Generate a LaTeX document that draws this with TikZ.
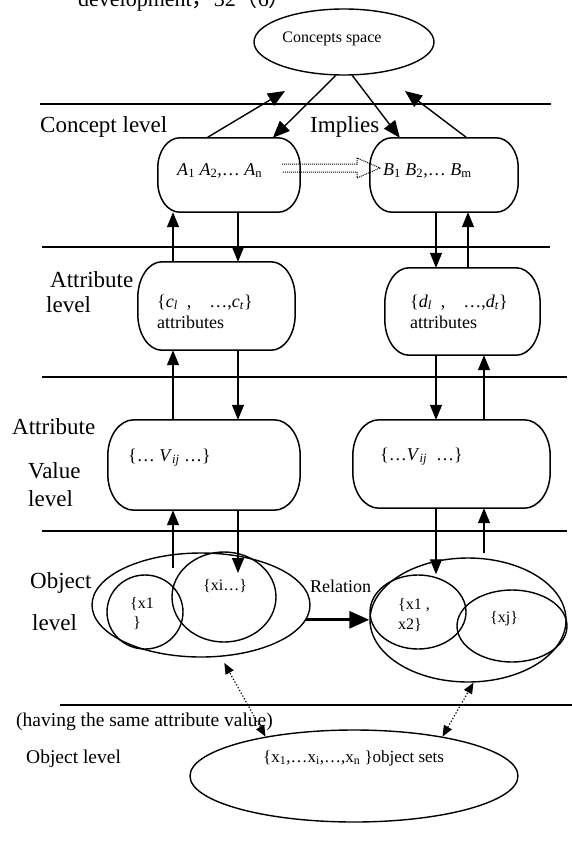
\documentclass[tikz,border=0pt]{standalone}
\usepackage{fontspec}
\setmainfont{Liberation Serif}
\newfontfamily\cjk{Noto Sans CJK SC}
\usetikzlibrary{arrows.meta,shapes.geometric,calc}
\newcommand{\capsulebox}[3]{%
  \draw[boxline] ([xshift=#2pt]#1.north west) -- ([xshift=-#2pt]#1.north east)
    arc[start angle=90,end angle=0,x radius=#2pt,y radius=#3pt]
    -- ([yshift=#3pt]#1.south east)
    arc[start angle=0,end angle=-90,x radius=#2pt,y radius=#3pt]
    -- ([xshift=#2pt]#1.south west)
    arc[start angle=270,end angle=180,x radius=#2pt,y radius=#3pt]
    -- ([yshift=-#3pt]#1.north west)
    arc[start angle=180,end angle=90,x radius=#2pt,y radius=#3pt] -- cycle;}
\begin{document}
\begin{tikzpicture}[x=1pt,y=-1pt,
  lvl/.style={line width=1.4pt},
  boxline/.style={line width=1.5pt},
  area/.style={inner sep=0pt, draw=none},
  ell/.style={ellipse, draw, line width=1.4pt, inner sep=0pt},
  lab/.style={font=\fontsize{23}{25}\selectfont, anchor=base west, inner sep=0pt},
  boxtxt/.style={font=\fontsize{18}{20}\selectfont, anchor=base west, inner sep=0pt},
  small/.style={font=\fontsize{16}{18}\selectfont, anchor=base west, inner sep=0pt},
  mid/.style={font=\fontsize{19.5}{21}\selectfont, anchor=base west, inner sep=0pt},
  varr/.style={line width=1.3pt, -{Triangle[length=15pt,width=12pt]}},
  carr/.style={line width=1.4pt, -{Triangle[length=17pt,width=14pt]}},
  relarr/.style={line width=3pt, -{Triangle[length=20pt,width=17pt]}},
  darr/.style={line width=1.2pt, dotted, {Triangle[length=11pt,width=9pt]}-{Triangle[length=11pt,width=9pt]}},
  implies/.style={line width=1pt, dash pattern=on 1pt off 1pt}
]
\useasboundingbox (0,0) rectangle (572,854);

% header fragment (cut off at the top)
\node[anchor=base west, inner sep=0pt, font=\fontsize{22}{24}\selectfont] (hdr) at (78,6) {development{\cjk ，}32{\cjk （}6{\cjk ）}};

% level separators
\draw[lvl] (40,104) -- (551,104);
\draw[lvl] (42,247) -- (550,247);
\draw[lvl] (42,377) -- (567,377);
\draw[lvl] (42,531) -- (567,531);
\draw[lvl] (60,705) -- (572,705);

% level labels
\node[lab] (lconcept) at (40,132) {Concept level};
\node[lab] (limplies) at (310,132) {Implies};
\node[lab] (lattr1) at (50,287) {Attribute};
\node[lab] (lattr2) at (46,312) {level};
\node[lab] (lval1) at (12,434) {Attribute};
\node[lab] (lval2) at (28,478) {Value};
\node[lab] (lval3) at (28,506) {level};
\node[lab] (lobj1) at (30,588) {Object};
\node[lab] (lobj2) at (32,630) {level};

% concepts space
\node[ell, minimum width=180pt, minimum height=66pt] (cs) at (344,42) {};
\node[font=\fontsize{16}{18}\selectfont, inner sep=0pt] (csT) at (332,39) {Concepts space};

% boxes
\node[area, minimum width=142pt, minimum height=74pt] (A) at (229,175) {};
\node[area, minimum width=148pt, minimum height=74pt] (B) at (444,175) {};
\node[area, minimum width=157pt, minimum height=88pt] (c) at (216.5,306) {};
\node[area, minimum width=155pt, minimum height=87pt] (d) at (462.5,311.5) {};
\node[area, minimum width=192pt, minimum height=90pt] (Vl) at (204,465) {};
\node[area, minimum width=197pt, minimum height=88pt] (Vr) at (451.5,464) {};
\capsulebox{A}{22}{30}
\capsulebox{B}{22}{30}
\capsulebox{c}{24}{36}
\capsulebox{d}{24}{36}
\capsulebox{Vl}{26}{36}
\capsulebox{Vr}{26}{36}

\node[boxtxt] (At) at (177,175) {\textit{A}\textsubscript{1} \textit{A}\textsubscript{2},… \textit{A}\textsubscript{n}};
\node[boxtxt] (Bt) at (383,175) {\textit{B}\textsubscript{1} \textit{B}\textsubscript{2},… \textit{B}\textsubscript{m}};
\node[boxtxt] (ct1) at (157,307) {\{\textit{c}\textsubscript{\textit{l}}\ \ ,\ \ \ \ …,\textit{c}\textsubscript{\textit{t}}\}};
\node[boxtxt] (ct2) at (157,328) {attributes};
\node[boxtxt] (dt1) at (410,307) {\{\textit{d}\textsubscript{\textit{l}}\ \ ,\ \ \ \ …,\textit{d}\textsubscript{\textit{t}}\}};
\node[boxtxt] (dt2) at (410,328) {attributes};
\node[boxtxt] (vlt) at (128,461) {\{… \textit{V}\textsubscript{\textit{ij}} …\}};
\node[boxtxt] (vrt) at (380,460) {\{…\textit{V}\textsubscript{\textit{ij}}\ \ …\}};

% object level sets
\node[ell, minimum width=218pt, minimum height=104pt] (bigL) at (201,605) {};
\node[ell, minimum width=76pt, minimum height=74pt] (x1) at (145,612) {};
\node[ell, minimum width=104pt, minimum height=90pt] (xi) at (224,597) {};
\node[ell, minimum width=196pt, minimum height=124pt] (bigR) at (468,620) {};
\node[ell, minimum width=96pt, minimum height=74pt] (x12) at (418,612) {};
\node[ell, minimum width=110pt, minimum height=72pt] (xj) at (512,626) {};
\node[small] (x1t1) at (130,608) {\{x1};
\node[small] (x1t2) at (133,627) {\}};
\node[small] (xit) at (203,590) {\{xi…\}};
\node[small] (x12t1) at (398,609) {\{x1 ,};
\node[small] (x12t2) at (398,629) {x2\}};
\node[small] (xjt) at (490,622) {\{xj\}};
\node[font=\fontsize{18}{20}\selectfont, anchor=base west, inner sep=0pt] (rel) at (310,592) {Relation};

% bottom object level
\node[mid] (having) at (16,726) {(having the same attribute value)};
\node[mid] (objlvl) at (26,763) {Object level};
\node[ell, minimum width=328pt, minimum height=92pt] (bot) at (354,776) {};
\node[font=\fontsize{17}{19}\selectfont, anchor=base west, inner sep=0pt] (bott) at (263,762) {\{x\textsubscript{1},…x\textsubscript{i},…,x\textsubscript{n} \}object sets};

% column coordinates and free ends
\coordinate (L1) at (173,0);
\coordinate (L2) at (238,0);
\coordinate (R1) at (436,0);
\coordinate (R2) at (468,0);
\coordinate (R3) at (484,0);
\coordinate (t1) at (285,91);
\coordinate (t4) at (405,91);
\coordinate (o1) at (173,568);
\coordinate (o2) at (238,573);
\coordinate (o3) at (484,553);

% concept arrows
\draw[carr] ([xshift=49pt]A.north west) -- (t1);
\draw[carr] (cs.256) -- ([xshift=115pt]A.north west);
\draw[carr] (cs.284) -- ([xshift=30pt]B.north west);
\draw[carr] ([xshift=97pt]B.north west) -- (t4);

% implies block arrow
\coordinate (ia) at (282,168);
\draw[implies] ([yshift=4pt]ia) -- ++(75,0) -- ++(0,-6) -- ++(23,10) -- ++(-23,10) -- ++(0,-6) -- ++(-75,0);

% vertical arrows, left column
\draw[varr] (L1 |- c.north) -- (L1 |- A.south);
\draw[varr] (L2 |- A.south) -- (L2 |- c.north);
\draw[varr] (L1 |- Vl.north) -- (L1 |- c.south);
\draw[varr] (L2 |- c.south) -- (L2 |- Vl.north);
\draw[varr] (o1) -- (L1 |- Vl.south);
\draw[varr] (L2 |- Vl.south) -- (o2);
% right column
\draw[varr] (R1 |- B.south) -- (R1 |- d.north);
\draw[varr] (R2 |- d.north) -- (R2 |- B.south);
\draw[varr] (R1 |- d.south) -- (R1 |- Vr.north);
\draw[varr] (R3 |- Vr.north) -- (R3 |- d.south);
\draw[varr] (R1 |- Vr.south) -- (R1 |- x12.north);
\draw[varr] (o3) -- (R3 |- Vr.south);

% relation
\draw[relarr] (bigL.352) -- (bigL.352 -| bigR.west);

% dotted links to the object sets
\draw[darr, shorten >=7pt] (bot.156) -- (bigL.291);
\draw[darr] (bot.24) -- (bigR.275);
\end{tikzpicture}
\end{document}
